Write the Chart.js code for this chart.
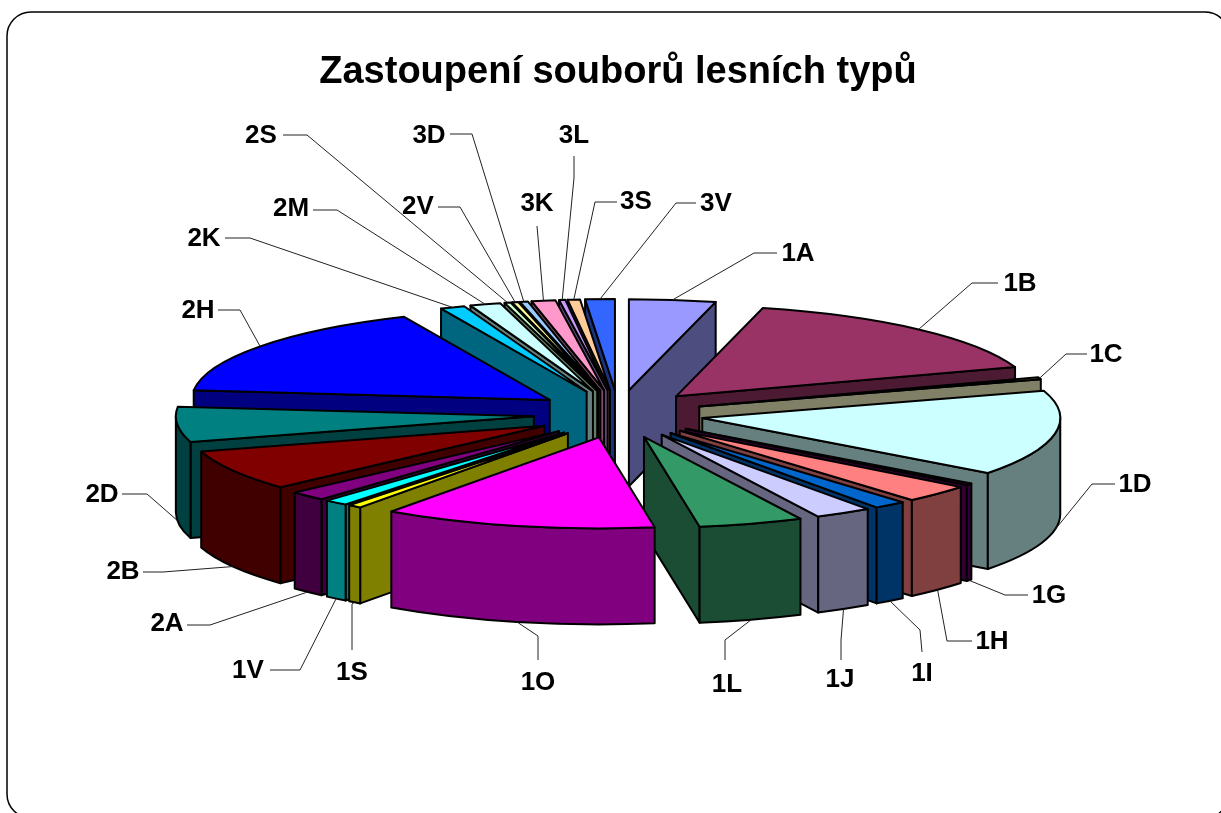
<!DOCTYPE html>
<html>
<head>
<meta charset="utf-8">
<style>html,body{margin:0;padding:0;background:#fff;overflow:hidden}canvas{display:block}</style>
<script src="https://cdn.jsdelivr.net/npm/chart.js@4"></script>
</head>
<body>
<canvas id="c" width="1221" height="813"></canvas>
<script>
const chartTitle = "Zastoupení souborů lesních typů";
const categories = ["1A","1B","1C","1D","1G","1H","1I","1J","1L","1O","1S","1V","2A","2B","2D","2H","2K","2M","2S","2V","3D","3K","3L","3S","3V"];
const shares = [3.9,15.9,0.36,15.16,0.33,3.14,1.47,2.56,4.72,12.34,0.61,1.08,1.67,7.22,6.25,16.67,1.11,1.39,0.28,0.28,0.36,1.08,0.28,0.56,1.33];
const sliceColours = ["#9999FF","#993366","#FFFFCC","#CCFFFF","#660066","#FF8080","#0066CC","#CCCCFF","#339966","#FF00FF","#FFFF00","#00FFFF","#800080","#800000","#008080","#0000FF","#00CCFF","#CCFFFF","#CCFFCC","#FFFF99","#99CCFF","#FF99CC","#CC99FF","#FFCC99","#3366FF"];
// label centre and leader elbow, in page pixels, same order as categories
const labelCentres = [[798,254],[1020,284],[1106,355],[1135,485],[1049,596],[992,642],[922,674],[840,680],[727,685],[538,683],[352,673],[248,671],[167,624],[123,572],[102,495],[198,311],[204,239],[291,209],[261,136],[418,207],[429,136],[537,204],[574,136],[636,202],[716,204]];
const leaderElbows = [[754,253,777],[972,283,998],[1066,354,1087],[1092,484,1115],[1005,595,1028],[947,641,972],[920,630,922,652],[841,640,841,660],[725,640,725,660],[538,636,538,660],[352,604,352,650],[300,670,270],[210,625,187],[163,572,143],[147,494,122],[240,310,218],[250,238,225],[337,210,313],[307,135,283],[460,207,438],[472,134,450],[537,226,537,226],[574,178,574,156],[595,202,617],[676,203,696]];

const view = {shiftX:0.5, shiftY:-34.8, stretchX:358/353, squash:91/353, explodeX:85/353, explodeY:24/353, depth:96};

function shade(hex){
  const n=parseInt(hex.slice(1),16);
  const f=v=>Math.round(v/2);
  return `rgb(${f(n>>16&255)},${f(n>>8&255)},${f(n&255)})`;
}
const pie3d = {
  id:'pie3d',
  beforeDraw(chart){
    const c=chart.ctx;
    c.save();
    c.fillStyle='#fff';c.fillRect(0,0,chart.width,chart.height);
    c.beginPath();
    c.roundRect(7,12,1222,806,24);
    c.strokeStyle='#000';c.lineWidth=1.5;c.stroke();
    c.restore();
  },
  beforeDatasetsDraw(chart){
    const c=chart.ctx, arcs=chart.getDatasetMeta(0).data;
    const items=arcs.map((el,i)=>{
      const R=el.outerRadius, s=el.startAngle, e=el.endAngle, m=(s+e)/2;
      const th=m+Math.PI/2; // clockwise from top
      return {i,R,s,e,m,th,
        Rx:R*view.stretchX,
        Ry:R*view.squash,
        ax:el.x+view.shiftX+R*view.explodeX*Math.cos(m),
        ay:el.y+view.shiftY+R*view.explodeY*Math.sin(m)};
    });
    c.save();
    c.lineWidth=2;c.lineJoin='round';c.strokeStyle='#000';
    const order=items.slice().sort((a,b)=>Math.abs(b.th-Math.PI)-Math.abs(a.th-Math.PI));
    const h=view.depth;
    for(const it of order){
      const top=sliceColours[it.i], wall=shade(top);
      const rad=t=>{
        c.beginPath();
        c.moveTo(it.ax,it.ay);
        c.lineTo(it.ax+it.Rx*Math.cos(t),it.ay+it.Ry*Math.sin(t));
        c.lineTo(it.ax+it.Rx*Math.cos(t),it.ay+it.Ry*Math.sin(t)+h);
        c.lineTo(it.ax,it.ay+h);
        c.closePath();
        c.fillStyle=wall;c.fill();c.stroke();
      };
      const thS=it.s+Math.PI/2, thE=it.e+Math.PI/2;
      if(Math.sin(thS)<0) rad(it.s);
      if(Math.sin(thE)>0) rad(it.e);
      const a=Math.max(it.s,0), b=Math.min(it.e,Math.PI);
      if(b>a){
        c.beginPath();
        c.ellipse(it.ax,it.ay,it.Rx,it.Ry,0,a,b,false);
        c.ellipse(it.ax,it.ay+h,it.Rx,it.Ry,0,b,a,true);
        c.closePath();
        c.fillStyle=wall;c.fill();c.stroke();
      }
      c.beginPath();
      c.moveTo(it.ax,it.ay);
      c.ellipse(it.ax,it.ay,it.Rx,it.Ry,0,it.s,it.e,false);
      c.closePath();
      c.fillStyle=top;c.fill();c.stroke();
    }
    // leaders and labels
    c.lineWidth=1;c.strokeStyle='#222';
    c.font='bold 26px "Liberation Sans"';c.fillStyle='#000';c.textAlign='center';c.textBaseline='middle';
    for(const it of items){
      const front=Math.cos(it.th)<0;
      const px=it.ax+it.Rx*Math.cos(it.m), py=it.ay+it.Ry*Math.sin(it.m)+(front?h:0);
      const el=leaderElbows[it.i];
      c.beginPath();c.moveTo(px,py);c.lineTo(el[0],el[1]);
      if(el.length===3)c.lineTo(el[2],el[1]);else c.lineTo(el[2],el[3]);
      c.stroke();
      const lc=labelCentres[it.i];
      c.fillText(categories[it.i],lc[0],lc[1]);
    }
    c.restore();
    return false;
  }
};
new Chart(document.getElementById('c'),{
  type:'pie',
  plugins:[pie3d],
  data:{labels:categories,datasets:[{data:shares,backgroundColor:sliceColours,borderWidth:0}]},
  options:{
    responsive:false,animation:false,rotation:0,
    layout:{padding:{left:265,right:250,top:0,bottom:11}},
    plugins:{
      legend:{display:false},tooltip:{enabled:false},
      title:{display:true,text:chartTitle,color:'#000',align:'center',
        font:{family:'"Liberation Sans"',size:38,weight:'bold',lineHeight:1.2},
        padding:{top:50,bottom:0}}
    }
  }
});
</script>
</body>
</html>
